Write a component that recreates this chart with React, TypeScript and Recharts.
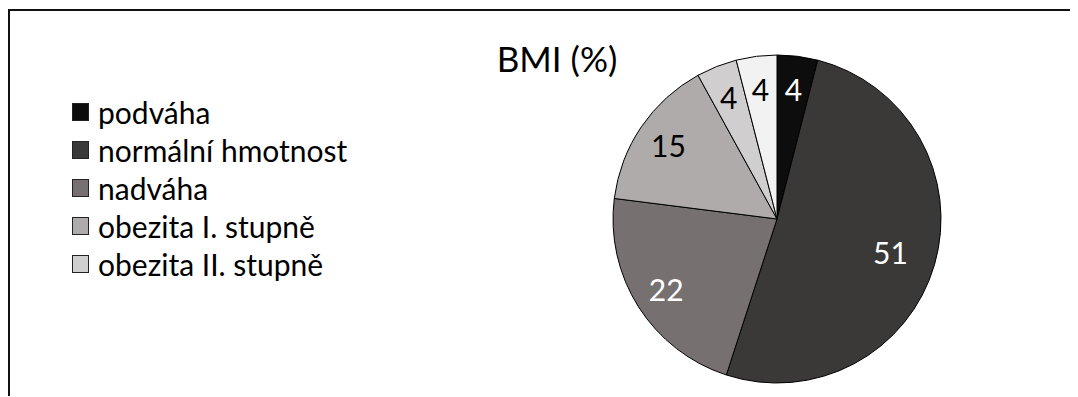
import { PieChart, Pie, Cell, Legend } from "recharts";

const categories = [
  "podváha",
  "normální hmotnost",
  "nadváha",
  "obezita I. stupně",
  "obezita II. stupně",
  "obezita III. stupně",
];
const shares = [4, 51, 22, 15, 4, 4];
const COLORS = ["#0d0d0d", "#3b3938", "#767170", "#aeabaa", "#d0cece", "#f2f2f2"];
const LABEL_COLORS = ["#fff", "#fff", "#fff", "#000", "#000", "#000"];

const FONT = "Lato, 'Open Sans', sans-serif";
const RADIAN = Math.PI / 180;

const chartData = categories.map((name, i) => ({ name, value: shares[i] }));

function renderLabel(props: any) {
  const { cx, cy, midAngle, outerRadius, index, value } = props;
  // the big slice sits a bit closer to the centre, like Excel's best-fit
  const r = outerRadius * (index === 1 ? 0.72 : 0.8);
  const x = cx + r * Math.cos(-midAngle * RADIAN);
  const y = cy + r * Math.sin(-midAngle * RADIAN);
  return (
    <text
      x={x}
      y={y}
      fill={LABEL_COLORS[index]}
      textAnchor="middle"
      dominantBaseline="central"
      fontSize={30}
      fontFamily={FONT}
    >
      {value}
    </text>
  );
}

function LegendList(props: any) {
  // keep data order; only the first five entries fit in the original box
  const items = [...(props.payload || [])]
    .sort((a: any, b: any) => categories.indexOf(a.value) - categories.indexOf(b.value))
    .slice(0, 5);
  return (
    <div style={{ fontFamily: FONT, fontSize: 30, color: "#000" }}>
      {items.map((entry: any, i: number) => (
        <div key={i} style={{ display: "flex", alignItems: "center", height: 38 }}>
          <span
            style={{
              width: 15,
              height: 16,
              background: entry.color,
              border: "1px solid #222",
              marginRight: 9,
              flexShrink: 0,
            }}
          />
          <span>{entry.value}</span>
        </div>
      ))}
    </div>
  );
}

export default function App() {
  return (
    <div
      style={{
        position: "relative",
        width: 1072,
        height: 387,
        marginTop: 1,
        borderTop: "2px solid #111",
        borderLeft: "2px solid #111",
        boxSizing: "border-box",
        overflow: "hidden",
      }}
    >
      <div
        style={{
          position: "absolute",
          left: 555 - 8 - 150,
          width: 300,
          top: 27,
          textAlign: "center",
          fontFamily: FONT,
          fontSize: 35,
          lineHeight: "40px",
        }}
      >
        BMI (%)
      </div>
      <PieChart width={1070} height={385}>
        <Pie
          data={chartData}
          dataKey="value"
          nameKey="name"
          cx={762}
          cy={203}
          outerRadius={164}
          startAngle={90}
          endAngle={-270}
          stroke="#000"
          strokeWidth={1}
          label={renderLabel}
          labelLine={false}
          isAnimationActive={false}
        >
          {chartData.map((_, index) => (
            <Cell key={index} fill={COLORS[index % COLORS.length]} />
          ))}
        </Pie>
        <Legend
          layout="vertical"
          content={<LegendList />}
          wrapperStyle={{ left: 62, top: 82, width: 360 }}
        />
      </PieChart>
    </div>
  );
}
